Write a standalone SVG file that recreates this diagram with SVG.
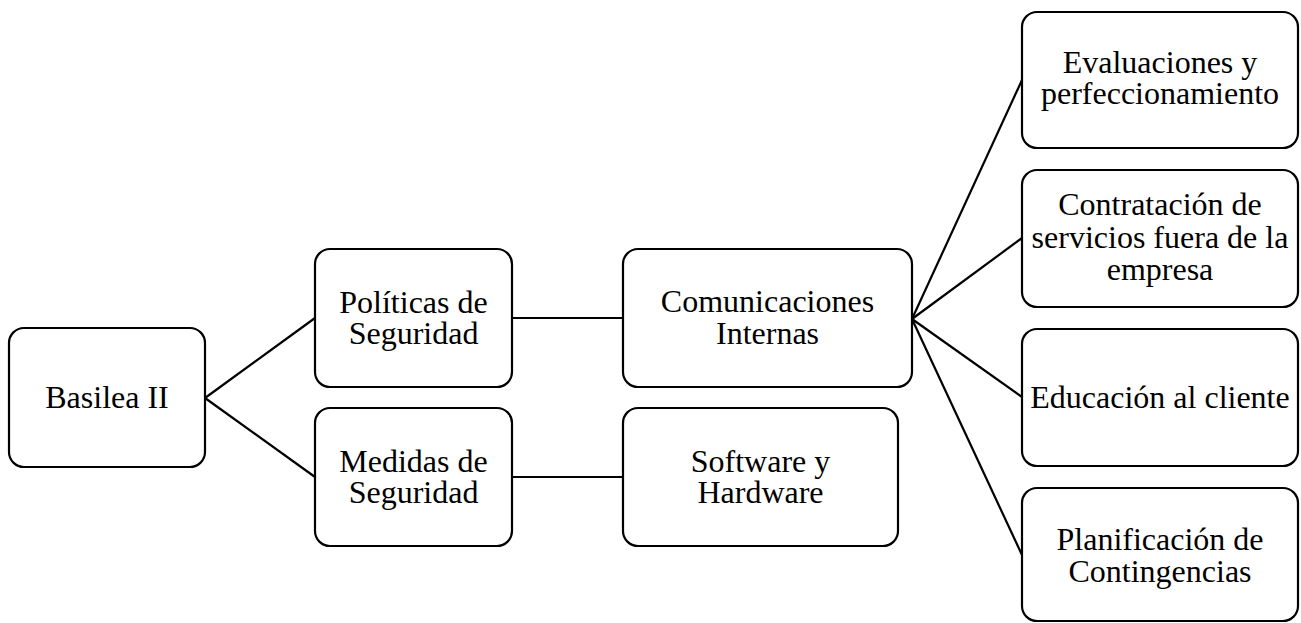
<svg xmlns="http://www.w3.org/2000/svg" width="1301" height="623" viewBox="0 0 1301 623">
<style>
.box{fill:#fff;stroke:#000;stroke-width:2.2}
.lbl{font-family:"Liberation Serif","Times New Roman",serif;font-size:32px;fill:#000;text-anchor:middle}
.conn line{stroke:#000;stroke-width:2.2}
</style>
<rect width="1301" height="623" fill="#fff"/>
<g class="conn" id="connectors">
<line x1="205" y1="398" x2="315" y2="318"/>
<line x1="205" y1="398" x2="315" y2="477"/>
<line x1="512" y1="318" x2="623" y2="318"/>
<line x1="512" y1="477" x2="623" y2="477"/>
<line x1="912" y1="319" x2="1022" y2="80"/>
<line x1="912" y1="319" x2="1022" y2="238"/>
<line x1="912" y1="319" x2="1022" y2="397"/>
<line x1="912" y1="319" x2="1022" y2="555"/>
</g>
<g id="basilea">
<rect class="box" x="9" y="328" width="196" height="139" rx="15"/>
<text class="lbl" x="107" y="408">Basilea II</text>
</g>
<g id="politicas">
<rect class="box" x="315" y="249" width="197" height="138" rx="15"/>
<text class="lbl" x="413.5" y="313">Políticas de</text>
<text class="lbl" x="413.5" y="344">Seguridad</text>
</g>
<g id="medidas">
<rect class="box" x="315" y="408" width="197" height="138" rx="15"/>
<text class="lbl" x="413.5" y="472">Medidas de</text>
<text class="lbl" x="413.5" y="503">Seguridad</text>
</g>
<g id="comunicaciones">
<rect class="box" x="623" y="249" width="289" height="138" rx="15"/>
<text class="lbl" x="767.5" y="312">Comunicaciones</text>
<text class="lbl" x="767.5" y="344">Internas</text>
</g>
<g id="software">
<rect class="box" x="623" y="408" width="275" height="138" rx="15"/>
<text class="lbl" x="760.5" y="472">Software y</text>
<text class="lbl" x="760.5" y="503">Hardware</text>
</g>
<g id="evaluaciones">
<rect class="box" x="1022" y="12" width="276" height="136" rx="15"/>
<text class="lbl" x="1160" y="72.5">Evaluaciones y</text>
<text class="lbl" x="1160" y="104">perfeccionamiento</text>
</g>
<g id="contratacion">
<rect class="box" x="1022" y="170" width="276" height="137" rx="15"/>
<text class="lbl" x="1160" y="215">Contratación de</text>
<text class="lbl" x="1160" y="248">servicios fuera de la</text>
<text class="lbl" x="1160" y="280">empresa</text>
</g>
<g id="educacion">
<rect class="box" x="1022" y="329" width="276" height="137" rx="15"/>
<text class="lbl" x="1160" y="407.5">Educación al cliente</text>
</g>
<g id="planificacion">
<rect class="box" x="1022" y="488" width="276" height="133" rx="15"/>
<text class="lbl" x="1160" y="550">Planificación de</text>
<text class="lbl" x="1160" y="582">Contingencias</text>
</g>
</svg>
